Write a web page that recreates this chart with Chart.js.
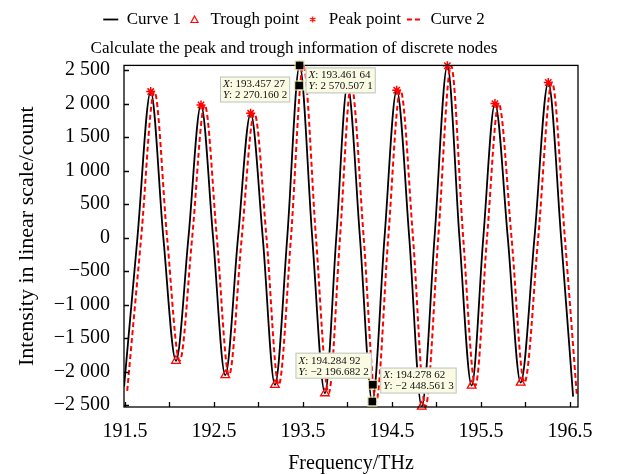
<!DOCTYPE html>
<html>
<head>
<meta charset="utf-8">
<script src="https://cdn.jsdelivr.net/npm/chart.js@4.4.1/dist/chart.umd.min.js"></script>
<style>
  html, body { margin: 0; padding: 0; background: #fff; }
  #wrap { width: 622px; height: 474px; }
</style>
</head>
<body>
<div id="wrap"><canvas id="peakChart"></canvas></div>
<script>
// Curve 1 (solid black): extrema and crossings
const curve1X = [191.490, 191.640, 191.789, 191.931, 192.073, 192.213, 192.354, 192.490, 192.627, 192.770,
                 192.912, 193.048, 193.185, 193.323, 193.462, 193.604, 193.747, 193.874, 194.000, 194.140,
                 194.279, 194.416, 194.553, 194.694, 194.834, 194.978, 195.122, 195.258, 195.395, 195.526,
                 195.657, 195.801, 195.946, 196.101, 196.256, 196.400, 196.535];
const curve1Y = [-2225, 0, 2180, 0, -1840, 0, 1980, 0, -2055, 0,
                 1855, 0, -2200, 0, 2570, 0, -2325, 0, 2280, 0,
                 -2449, 0, 2200, 0, -2525, 0, 2565, 0, -2210, 0,
                 2000, 0, -2165, 0, 2315, 0, -2375];

// Curve 2 (dashed red), sits a little to the right of curve 1
const curve2X = [191.525, 191.682, 191.831, 191.973, 192.115, 192.255, 192.396, 192.532, 192.669, 192.812,
                 192.954, 193.090, 193.227, 193.365, 193.504, 193.646, 193.789, 193.916, 194.042, 194.182,
                 194.321, 194.458, 194.595, 194.736, 194.876, 195.020, 195.164, 195.300, 195.437, 195.568,
                 195.699, 195.843, 195.988, 196.143, 196.298, 196.442, 196.577];
const curve2Y = [-2290, 0, 2180, 0, -1840, 0, 1980, 0, -2055, 0,
                 1855, 0, -2200, 0, 2570, 0, -2325, 0, 2280, 0,
                 -2449, 0, 2200, 0, -2525, 0, 2565, 0, -2210, 0,
                 2000, 0, -2165, 0, 2315, 0, -2360];

const peakX = [191.789, 192.354, 192.912, 193.462, 194.553, 195.122, 195.657, 196.256];
const peakY = [2180, 1980, 1855, 2570, 2200, 2565, 2000, 2315];
const troughX = [192.073, 192.627, 193.185, 193.747, 194.834, 195.395, 195.946];
const troughY = [-1840, -2055, -2200, -2325, -2525, -2210, -2165];

// data tips shown on the figure
const tipX = [193.45727, 193.46164, 194.28492, 194.27862];
const tipY = [2270.1602, 2570.5071, -2196.6822, -2448.5613];

const xTicks = [191.5, 192, 192.5, 193, 193.5, 194, 194.5, 195, 195.5, 196, 196.5];
const xLabels = [191.5, 192.5, 193.5, 194.5, 195.5, 196.5];
const yTicks = [-2500, -2000, -1500, -1000, -500, 0, 500, 1000, 1500, 2000, 2500];

const SERIF = "'Liberation Serif', 'Times New Roman', serif";

function fmt(v, decimals) {
    const s = Math.abs(v).toFixed(decimals);
    const parts = s.split('.');
    const ip = parts[0].replace(/\B(?=(\d{3})+(?!\d))/g, ' ');
    const dp = parts[1] ? parts[1].replace(/(\d{3})(?=\d)/g, '$1 ') : '';
    return (v < 0 ? '\u2212' : '') + ip + (dp ? '.' + dp : '');
}

function pts(xs, ys) {
    return xs.map((x, i) => ({ x: x, y: ys[i] }));
}

// small legend icons for the marker series
function markerIcon(kind) {
    const c = document.createElement('canvas');
    c.width = 9; c.height = 9;
    const g = c.getContext('2d');
    g.strokeStyle = '#ff0000';
    g.lineWidth = 1.2;
    g.beginPath();
    if (kind === 'triangle') {
        g.moveTo(4.5, 1); g.lineTo(8, 7.5); g.lineTo(1, 7.5); g.closePath();
    } else {
        g.moveTo(4.5, 1.5); g.lineTo(4.5, 7.5);
        g.moveTo(1.8, 3); g.lineTo(7.2, 6);
        g.moveTo(1.8, 6); g.lineTo(7.2, 3);
    }
    g.stroke();
    return c;
}

// frame, inward ticks and the data tip boxes
const framePlugin = {
    id: 'frameAndTips',
    afterDatasetsDraw(chart) {
        const ctx = chart.ctx;
        const a = chart.chartArea;
        const xs = chart.scales.x, ys = chart.scales.y;
        ctx.save();
        ctx.strokeStyle = '#000';
        ctx.lineWidth = 1.3;
        ctx.strokeRect(a.left, a.top, a.right - a.left, a.bottom - a.top);
        ctx.beginPath();
        xTicks.forEach(v => {
            const px = Math.round(xs.getPixelForValue(v)) + 0.5;
            ctx.moveTo(px, a.bottom);
            ctx.lineTo(px, a.bottom - 5);
        });
        yTicks.forEach(v => {
            const py = Math.round(ys.getPixelForValue(v)) + 0.5;
            ctx.moveTo(a.left, py);
            ctx.lineTo(a.left + 5, py);
        });
        ctx.stroke();

        // tip placement: which side of the marker and vertical offset of box top
        const place = [
            { side: 'left', gap: 9, dy: -9 },
            { side: 'right', gap: 6, dy: 2 },
            { side: 'left', gap: 1, dy: -32 },
            { side: 'right', gap: 8, dy: -34 }
        ];
        tipX.forEach((tx, i) => {
            const mx = xs.getPixelForValue(tx);
            const my = ys.getPixelForValue(tipY[i]);
            const l1 = ': ' + fmt(tx, 5);
            const l2 = ': ' + fmt(tipY[i], 4);
            ctx.font = 'italic 11px ' + SERIF;
            const wx = ctx.measureText('X').width, wy = ctx.measureText('Y').width;
            ctx.font = '11px ' + SERIF;
            const w = Math.max(wx + ctx.measureText(l1).width, wy + ctx.measureText(l2).width) + 6;
            const h = 26;
            const p = place[i];
            const bx = p.side === 'left' ? mx - p.gap - w : mx + p.gap;
            const by = my + p.dy;
            ctx.fillStyle = '#fbfbe4';
            ctx.fillRect(bx, by, w, h);
            ctx.strokeStyle = '#b9c4c4';
            ctx.lineWidth = 1;
            ctx.strokeRect(bx + 0.5, by + 0.5, w - 1, h - 1);
            ctx.fillStyle = '#111';
            ctx.textBaseline = 'middle';
            ctx.textAlign = 'left';
            ctx.font = 'italic 11px ' + SERIF;
            ctx.fillText('X', bx + 3, by + 8);
            ctx.fillText('Y', bx + 3, by + 19);
            ctx.font = '11px ' + SERIF;
            ctx.fillText(l1, bx + 3 + wx, by + 8);
            ctx.fillText(l2, bx + 3 + wy, by + 19);
            // marker square
            ctx.fillStyle = '#000';
            ctx.fillRect(mx - 4, my - 4, 8, 8);
            ctx.strokeStyle = '#e8e3a0';
            ctx.strokeRect(mx - 4.5, my - 4.5, 9, 9);
        });
        ctx.restore();
    }
};

const ctx = document.getElementById('peakChart').getContext('2d');
const peakChart = new Chart(ctx, {
    type: 'line',
    data: {
        datasets: [
            {
                label: 'Curve 1',
                data: pts(curve1X, curve1Y),
                borderColor: '#000',
                backgroundColor: '#000',
                borderWidth: 1.8,
                pointRadius: 0,
                pointStyle: 'line',
                cubicInterpolationMode: 'monotone',
                order: 3
            },
            {
                label: 'Trough point',
                data: pts(troughX, troughY),
                showLine: false,
                borderColor: '#ff0000',
                backgroundColor: 'rgba(0,0,0,0)',
                pointStyle: 'triangle',
                pointRadius: 5,
                pointBorderWidth: 1.3,
                clip: false,
                order: 1
            },
            {
                label: 'Peak point',
                data: pts(peakX, peakY),
                showLine: false,
                borderColor: '#ff0000',
                backgroundColor: '#ff0000',
                pointStyle: 'star',
                pointRadius: 4.5,
                pointBorderWidth: 1.5,
                clip: false,
                order: 1
            },
            {
                label: 'Curve 2',
                data: pts(curve2X, curve2Y),
                borderColor: '#ff0000',
                backgroundColor: '#ff0000',
                borderWidth: 2,
                borderDash: [5, 3],
                pointRadius: 0,
                pointStyle: 'line',
                cubicInterpolationMode: 'monotone',
                order: 2
            }
        ]
    },
    options: {
        responsive: true,
        maintainAspectRatio: false,
        animation: false,
        layout: { padding: { left: 10, right: 44, top: 5, bottom: 0 } },
        scales: {
            x: {
                type: 'linear',
                min: 191.489,
                max: 196.59,
                grid: { display: false, drawTicks: false },
                border: { display: false },
                afterBuildTicks: s => { s.ticks = xTicks.map(v => ({ value: v })); },
                afterFit: s => { s.height = 67; },
                ticks: {
                    padding: 13,
                    autoSkip: false,
                    maxRotation: 0,
                    color: '#000',
                    font: { family: SERIF, size: 20 },
                    callback: v => xLabels.includes(v) ? v.toFixed(1) : ''
                },
                title: {
                    display: true,
                    text: 'Frequency/THz',
                    color: '#000',
                    font: { family: SERIF, size: 20 },
                    padding: { top: 4, bottom: -2 }
                }
            },
            y: {
                min: -2530,
                max: 2570.5,
                grid: { display: false, drawTicks: false },
                border: { display: false },
                afterBuildTicks: s => { s.ticks = yTicks.map(v => ({ value: v })); },
                afterFit: s => { s.width = 114; },
                ticks: {
                    padding: 14,
                    color: '#000',
                    font: { family: SERIF, size: 20 },
                    callback: v => fmt(v, 0)
                },
                title: {
                    display: true,
                    text: 'Intensity in linear scale/count',
                    color: '#000',
                    font: { family: SERIF, size: 22 },
                    padding: { top: 4, bottom: 0 }
                }
            }
        },
        plugins: {
            legend: {
                display: true,
                position: 'top',
                weight: 3000,
                labels: {
                    usePointStyle: true,
                    pointStyleWidth: 15,
                    boxHeight: 5,
                    padding: 6,
                    color: '#000',
                    font: { family: SERIF, size: 17 },
                    sort: (a, b) => a.datasetIndex - b.datasetIndex,
                    generateLabels: chart => {
                        const items = Chart.defaults.plugins.legend.labels.generateLabels(chart);
                        items.forEach(it => {
                            const ds = chart.data.datasets[it.datasetIndex];
                            it.lineDash = ds.borderDash || [];
                            if (ds.pointStyle === 'triangle' || ds.pointStyle === 'star') {
                                it.pointStyle = markerIcon(ds.pointStyle);
                            }
                        });
                        return items;
                    }
                }
            },
            title: {
                display: true,
                text: 'Calculate the peak and trough information of discrete nodes',
                color: '#000',
                font: { family: SERIF, size: 17, weight: 'normal' },
                padding: { top: 0, bottom: 7 }
            },
            tooltip: { enabled: false }
        }
    },
    plugins: [framePlugin]
});
</script>
</body>
</html>
